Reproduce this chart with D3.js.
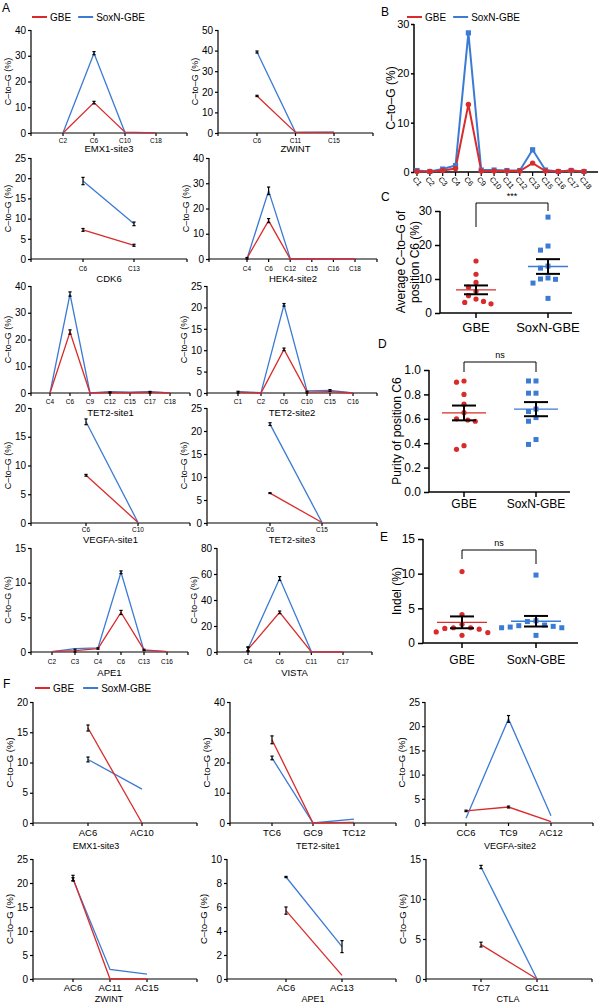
<!DOCTYPE html>
<html><head><meta charset="utf-8">
<script src="https://cdn.jsdelivr.net/npm/d3@7"></script>
<style>body{margin:0;background:#fff}svg{display:block}</style>
</head><body><svg id="c" width="598" height="1005"></svg>
<script>
const RED="#d92b2b", BLUE="#3b7bd4";
const FONT='"Liberation Sans", Arial, Helvetica, sans-serif';

// ---------- Panel A data ----------
const a1Cats=["C2","C6","C10","C18"], a1GBE=[0,11.8,0.3,0.05], a1Sox=[0.1,31,0.2,0.05], a1GBEErr=[0,0.5,0,0], a1SoxErr=[0,0.6,0,0];
const a2Cats=["C6","C11","C15"], a2GBE=[18,0.3,0.3], a2Sox=[39.3,0.3,0.4], a2GBEErr=[0.3,0,0], a2SoxErr=[0.5,0,0];
const a3Cats=["C6","C13"], a3GBE=[7.2,3.4], a3Sox=[19.3,8.7], a3GBEErr=[0.35,0.25], a3SoxErr=[0.9,0.45];
const a4Cats=["C4","C6","C12","C15","C16","C18"], a4GBE=[0.3,15.2,0,0,0,0], a4Sox=[0.1,27,0.2,0.1,0.1,0.1], a4GBEErr=[0.3,0.8,0,0,0,0], a4SoxErr=[0,1.5,0,0,0,0];
const a5Cats=["C4","C6","C9","C12","C15","C17","C18"], a5GBE=[0,22.8,0,0.2,0.1,0.3,0], a5Sox=[0,37,0,0.5,0.3,0.5,0], a5GBEErr=[0,0.8,0,0.2,0,0.3,0], a5SoxErr=[0,0.8,0,0,0,0,0];
const a6Cats=["C1","C2","C6","C10","C15","C16"], a6GBE=[0.2,0,10.2,0.2,0.3,0], a6Sox=[0.3,0.1,20.6,0.5,0.6,0], a6GBEErr=[0.2,0,0.3,0.2,0,0], a6SoxErr=[0,0,0.3,0,0.2,0];
const a7Cats=["C6","C10"], a7GBE=[8.3,0.1], a7Sox=[17.6,0.1], a7GBEErr=[0.15,0], a7SoxErr=[0.5,0];
const a8Cats=["C6","C15"], a8GBE=[6.5,0.1], a8Sox=[21.5,0.1], a8GBEErr=[0.1,0], a8SoxErr=[0.3,0];
const a9Cats=["C2","C3","C4","C6","C13","C16"], a9GBE=[0.05,0.2,0.5,5.7,0.3,0.05], a9Sox=[0.05,0.5,0.6,11.5,0.2,0.05], a9GBEErr=[0,0.2,0.1,0.3,0.1,0], a9SoxErr=[0,0,0,0.2,0,0];
const a10Cats=["C4","C6","C11","C17"], a10GBE=[2,30.5,0.1,0], a10Sox=[2.5,56.5,0.3,0.1], a10GBEErr=[1.5,1,0,0], a10SoxErr=[1.5,1.5,0,0];
const aTitles=["EMX1-site3","ZWINT","CDK6","HEK4-site2","TET2-site1","TET2-site2","VEGFA-site1","TET2-site3","APE1","VISTA"];
const aYMax=[40,50,25,40,40,25,20,25,15,80], aYStep=[10,10,5,10,10,5,5,5,5,20];

// ---------- Panel B data ----------
const bCats=["C1","C2","C3","C4","C6","C9","C10","C11","C12","C13","C15","C16","C17","C18"];
const bGBE=[0.1,0.1,0.3,0.7,13.7,0.2,0.2,0.2,0.2,1.8,0.2,0.1,0.3,0.1];
const bSox=[0.3,0.1,0.6,1.3,28.2,0.4,0.4,0.3,0.3,4.5,0.4,0.1,0.3,0.1];

// ---------- Panels C, D, E data ----------
const groups=["GBE","SoxN-GBE"];
const cGBE=[15.3,11.4,9.0,7.6,6.4,5.1,4.1,3.4,3.1,2.7];
const cSox=[28.2,19.7,18.5,13.8,13.2,10.3,10.0,9.9,8.8,4.3];
const dGBE=[0.91,0.90,0.80,0.72,0.65,0.60,0.59,0.58,0.38,0.35];
const dSox=[0.91,0.91,0.81,0.81,0.68,0.66,0.61,0.58,0.43,0.39];
const eGBE=[10.3,4.1,2.7,2.2,2.2,2.1,2.0,1.6,1.5,1.1];
const eSox=[9.8,3.2,3.1,2.6,2.5,2.4,2.3,2.2,2.2,1.1];
const sigLabels=["***","ns","ns"];

// ---------- Panel F data ----------
const f1Cats=["AC6","AC10"], f1GBE=[15.7,0], f1Sox=[10.5,5.6], f1GBEErr=[0.5,0], f1SoxErr=[0.4,0];
const f2Cats=["TC6","GC9","TC12"], f2GBE=[27.5,0,0.2], f2Sox=[21.5,0,1.3], f2GBEErr=[1.3,0,0], f2SoxErr=[0.6,0,0];
const f3Cats=["CC6","TC9","AC12"], f3GBE=[2.5,3.3,0.3], f3Sox=[1.0,21.5,1.5], f3GBEErr=[0.15,0.2,0], f3SoxErr=[0,0.7,0];
const f4Cats=["AC6","AC11","AC15"], f4GBE=[21,0,0], f4Sox=[20.8,2.0,1.0], f4GBEErr=[0.6,0,0], f4SoxErr=[0.3,0,0];
const f5Cats=["AC6","AC13"], f5GBE=[5.7,0.3], f5Sox=[8.5,2.7], f5GBEErr=[0.3,0], f5SoxErr=[0.05,0.5];
const f6Cats=["TC7","GC11"], f6GBE=[4.3,0], f6Sox=[14,0], f6GBEErr=[0.3,0], f6SoxErr=[0.2,0];
const fTitles=["EMX1-site3","TET2-site1","VEGFA-site2","ZWINT","APE1","CTLA"];
const fYMax=[20,40,25,25,10,15], fYStep=[5,10,5,5,2,5];

const svg=d3.select("#c").attr("font-family",FONT);

function text(x,y,s,size,o={}){
  const t=svg.append("text").attr("x",x).attr("y",y).attr("font-size",size).attr("fill","#000").attr("text-anchor",o.anchor||"start").text(s);
  if(o.rot!=null) t.attr("transform",`rotate(${o.rot},${x},${y})`);
  if(o.weight) t.attr("font-weight",o.weight);
  return t;
}

function legend(x,y,names,size,gap){
  let cx=x;
  [RED,BLUE].forEach((c,i)=>{
    svg.append("line").attr("x1",cx).attr("x2",cx+15).attr("y1",y).attr("y2",y).attr("stroke",c).attr("stroke-width",2);
    const t=text(cx+18,y+size*0.36,names[i],size);
    cx+=18+t.node().getComputedTextLength()+gap;
  });
}

function yAxis(g,p,y){
  const ticks=d3.range(0,p.ymax+p.ystep/2,p.ystep);
  const a=g.append("g").attr("transform",`translate(${p.x0},0)`)
    .call(d3.axisLeft(y).tickValues(ticks).tickSize(p.tk).tickSizeOuter(0).tickPadding(p.tp).tickFormat(p.fmt||d3.format("d")));
  a.attr("font-family",FONT).attr("font-size",p.yfs);
  a.selectAll("text").attr("fill","#000");
  a.selectAll("path,line").attr("stroke","#000").attr("stroke-width",p.sw);
  a.select(".domain").attr("d",`M0,${p.y1}V${p.y0}`);
}

function linePlot(p){
  const g=svg.append("g");
  const y=d3.scaleLinear().domain([0,p.ymax]).range([p.y1,p.y0]);
  const x=d3.scalePoint().domain(p.cats).range(p.xr);
  yAxis(g,p,y);
  g.append("line").attr("x1",p.x0).attr("x2",p.x1).attr("y1",p.y1).attr("y2",p.y1).attr("stroke","#000").attr("stroke-width",p.sw);
  const xt=[p.x0,...p.cats.map(c=>x(c)),p.x1];
  g.selectAll(null).data(xt).join("line").attr("x1",d=>d).attr("x2",d=>d).attr("y1",p.y1).attr("y2",p.y1+p.tk).attr("stroke","#000").attr("stroke-width",p.sw);
  g.selectAll(null).data(p.cats).join("text").attr("x",c=>x(c)).attr("y",p.y1+p.cdy).attr("text-anchor","middle").attr("font-size",p.cfs).text(c=>c);
  const ser=[{v:p.sox,e:p.soxE,c:BLUE},{v:p.gbe,e:p.gbeE,c:RED}];
  const line=d3.line().x((d,i)=>x(p.cats[i])).y(d=>y(d));
  ser.forEach(s=>{
    g.append("path").attr("d",line(s.v)).attr("fill","none").attr("stroke",s.c).attr("stroke-width",p.lw).attr("stroke-linejoin","miter");
  });
  ser.forEach(s=>{
    s.v.forEach((v,i)=>{
      const e=s.e[i]; if(!e) return;
      const cx=x(p.cats[i]);
      const ya=y(v+e), yb=y(Math.max(0,v-e));
      g.append("line").attr("x1",cx).attr("x2",cx).attr("y1",ya).attr("y2",yb).attr("stroke","#000").attr("stroke-width",1.2);
      [ya,yb].forEach(yy=>g.append("line").attr("x1",cx-1.6).attr("x2",cx+1.6).attr("y1",yy).attr("y2",yy).attr("stroke","#000").attr("stroke-width",1.2));
    });
  });
  text(p.tx!=null?p.tx:(p.x0+p.x1)/2,p.y1+p.tdy,p.title,p.tfs,{anchor:"middle"});
  text(p.x0-p.yl,(p.y0+p.y1)/2,"C\u2013to\u2013G (%)",p.ylfs,{anchor:"middle",rot:-90});
}

// ---------- Panel A ----------
text(2,12,"A",12);
legend(32,17,["GBE","SoxN-GBE"],10,7);
const aBox=[
  {x0:31,x1:187,xr:[63,156],y0:30,y1:133,tdy:19,cdy:10},
  {x0:218,x1:373,xr:[257,334],y0:30,y1:133,tdy:19,cdy:10},
  {x0:31,x1:187,xr:[83,134],y0:158,y1:259,tdy:23,cdy:12},
  {x0:209,x1:377,xr:[247,355],y0:158,y1:259,tdy:23,cdy:12},
  {x0:31,x1:190,xr:[50,170],y0:286,y1:393,tdy:23,cdy:11},
  {x0:207,x1:377,xr:[238,353],y0:286,y1:393,tdy:23,cdy:11},
  {x0:31,x1:190,xr:[86,138],y0:408,y1:523,tdy:19.5,cdy:8.5},
  {x0:207,x1:377,xr:[270,322],y0:408,y1:523,tdy:19.5,cdy:8.5},
  {x0:31,x1:188,xr:[52,167],y0:548,y1:652,tdy:24,cdy:12},
  {x0:217,x1:372,xr:[248,343],y0:548,y1:652,tdy:24,cdy:12}
];
const aData=[
  [a1Cats,a1GBE,a1Sox,a1GBEErr,a1SoxErr],[a2Cats,a2GBE,a2Sox,a2GBEErr,a2SoxErr],
  [a3Cats,a3GBE,a3Sox,a3GBEErr,a3SoxErr],[a4Cats,a4GBE,a4Sox,a4GBEErr,a4SoxErr],
  [a5Cats,a5GBE,a5Sox,a5GBEErr,a5SoxErr],[a6Cats,a6GBE,a6Sox,a6GBEErr,a6SoxErr],
  [a7Cats,a7GBE,a7Sox,a7GBEErr,a7SoxErr],[a8Cats,a8GBE,a8Sox,a8GBEErr,a8SoxErr],
  [a9Cats,a9GBE,a9Sox,a9GBEErr,a9SoxErr],[a10Cats,a10GBE,a10Sox,a10GBEErr,a10SoxErr]
];
aBox.forEach((b,i)=>{
  const [cats,gbe,sox,gbeE,soxE]=aData[i];
  linePlot(Object.assign({cats,gbe,sox,gbeE,soxE,title:aTitles[i],ymax:aYMax[i],ystep:aYStep[i],
    tk:3,tp:2,sw:1.2,yfs:10,cfs:6.5,tfs:9.5,yl:20,ylfs:9,lw:1.3},b));
});

// ---------- Panel B ----------
text(381,16,"B",12);
legend(407,17,["GBE","SoxN-GBE"],10,7);
(function(){
  const p={x0:414,x1:598,y0:24,y1:172,ymax:30,ystep:10,tk:3,tp:1.5,sw:1.5,yfs:11};
  const g=svg.append("g");
  const y=d3.scaleLinear().domain([0,p.ymax]).range([p.y1,p.y0]);
  const x=d3.scalePoint().domain(bCats).range([417,584]);
  yAxis(g,p,y);
  g.append("line").attr("x1",p.x0).attr("x2",p.x1).attr("y1",p.y1).attr("y2",p.y1).attr("stroke","#000").attr("stroke-width",p.sw);
  g.selectAll(null).data(bCats).join("line").attr("x1",c=>x(c)).attr("x2",c=>x(c)).attr("y1",p.y1).attr("y2",p.y1+4).attr("stroke","#000").attr("stroke-width",1.2);
  g.selectAll(null).data(bCats).join("text").attr("font-size",7.5)
    .attr("transform",c=>`translate(${x(c)-3},${p.y1+6}) rotate(50)`).attr("dy","0.3em").text(c=>c);
  const line=d3.line().x((d,i)=>x(bCats[i])).y(d=>y(d));
  g.append("path").attr("d",line(bSox)).attr("fill","none").attr("stroke",BLUE).attr("stroke-width",2);
  g.append("path").attr("d",line(bGBE)).attr("fill","none").attr("stroke",RED).attr("stroke-width",2);
  g.selectAll(null).data(bSox).join("rect").attr("x",(d,i)=>x(bCats[i])-2.6).attr("y",d=>y(d)-2.6).attr("width",5.2).attr("height",5.2).attr("fill",BLUE);
  g.selectAll(null).data(bGBE).join("circle").attr("cx",(d,i)=>x(bCats[i])).attr("cy",d=>y(d)).attr("r",2.7).attr("fill",RED);
  text(395,(p.y0+p.y1)/2,"C\u2013to\u2013G (%)",12,{anchor:"middle",rot:-90});
})();

// ---------- Panels C, D, E ----------
function dodge(vals,y,D){
  const pts=vals.map(v=>({v,y:y(v),dx:0}));
  const order=[...pts].sort((a,b)=>b.v-a.v);
  const placed=[];
  const cands=[0]; for(let j=1;j<12;j++){cands.push(-j*D/2,j*D/2);}
  order.forEach(p=>{
    for(const c of cands){ if(placed.every(q=>Math.hypot(q.dx-c,q.y-p.y)>=D)){p.dx=c;break;} }
    placed.push(p);
  });
  return pts;
}
function scatterPlot(p){
  const g=svg.append("g");
  const y=d3.scaleLinear().domain([0,p.ymax]).range([p.y1,p.y0]);
  const x=d3.scalePoint().domain(groups).range(p.xr);
  yAxis(g,p,y);
  g.append("line").attr("x1",p.x0).attr("x2",p.x1).attr("y1",p.y1).attr("y2",p.y1).attr("stroke","#000").attr("stroke-width",p.sw);
  g.selectAll(null).data(groups).join("line").attr("x1",c=>x(c)).attr("x2",c=>x(c)).attr("y1",p.y1).attr("y2",p.y1+5).attr("stroke","#000").attr("stroke-width",p.sw);
  g.selectAll(null).data(groups).join("text").attr("x",c=>x(c)).attr("y",p.y1+p.cdy).attr("text-anchor","middle").attr("font-size",p.cfs).text(c=>c);
  [[p.gbe,RED,"c"],[p.sox,BLUE,"s"]].forEach(([vals,col,shape],k)=>{
    const cx=x(groups[k]);
    const pts=dodge(vals,y,p.D);
    pts.forEach(pt=>{
      if(shape==="c") g.append("circle").attr("cx",cx+pt.dx).attr("cy",pt.y).attr("r",2.6).attr("fill",col);
      else g.append("rect").attr("x",cx+pt.dx-2.5).attr("y",pt.y-2.5).attr("width",5).attr("height",5).attr("fill",col);
    });
    const m=d3.mean(vals), se=d3.deviation(vals)/Math.sqrt(vals.length);
    g.append("line").attr("x1",cx-p.mw).attr("x2",cx+p.mw).attr("y1",y(m)).attr("y2",y(m)).attr("stroke",col).attr("stroke-width",1.3);
    g.append("line").attr("x1",cx).attr("x2",cx).attr("y1",y(m-se)).attr("y2",y(m+se)).attr("stroke","#000").attr("stroke-width",2);
    [m-se,m+se].forEach(v=>g.append("line").attr("x1",cx-p.cw).attr("x2",cx+p.cw).attr("y1",y(v)).attr("y2",y(v)).attr("stroke","#000").attr("stroke-width",2));
  });
  const xa=x(groups[0]), xb=x(groups[1]);
  g.append("path").attr("d",`M${xa},${p.by+p.bl}V${p.by}H${xb}V${p.by+p.br}`).attr("fill","none").attr("stroke","#000").attr("stroke-width",1);
  text((xa+xb)/2,p.by-4,p.sig,9,{anchor:"middle"});
  p.ylab.forEach((s,i)=>text(p.ylx[i],(p.y0+p.y1)/2,s,p.ylfs,{anchor:"middle",rot:-90}));
}
text(381,201,"C",12);
scatterPlot({gbe:cGBE,sox:cSox,x0:440,x1:572,xr:[476,548],y0:211,y1:313,ymax:30,ystep:10,tk:5,tp:3,sw:1.5,yfs:12,cfs:13,cdy:19,
  D:7.5,mw:20,cw:12,by:203,bl:24,br:8,sig:sigLabels[0],ylab:["Average C\u2013to\u2013G of","position C6 (%)"],ylx:[405,419],ylfs:12});
text(378,348,"D",12);
scatterPlot({gbe:dGBE,sox:dSox,x0:429,x1:570,xr:[464,536],y0:370,y1:492,ymax:1.0,ystep:0.2,fmt:d3.format(".1f"),tk:5,tp:3,sw:1.5,yfs:12,cfs:12,cdy:16,
  D:7.5,mw:22,cw:12,by:362,bl:10,br:10,sig:sigLabels[1],ylab:["Purity of position C6"],ylx:[401],ylfs:12});
text(380,541,"E",12);
scatterPlot({gbe:eGBE,sox:eSox,x0:423,x1:578,xr:[462,536],y0:539,y1:643,ymax:15,ystep:5,tk:5,tp:3,sw:1.5,yfs:12,cfs:12,cdy:21,
  D:8.6,mw:25,cw:12,by:550,bl:9,br:14,sig:sigLabels[2],ylab:["Indel (%)"],ylx:[401],ylfs:12});

// ---------- Panel F ----------
text(3,688,"F",12);
legend(35,688,["GBE","SoxM-GBE"],10,9);
const fBox=[
  {x0:33,x1:197,xr:[88,142],y0:702,y1:823,tdy:26,cdy:13,tx:96},
  {x0:230,x1:396,xr:[272,354],y0:702,y1:823,tdy:26,cdy:13,tx:318},
  {x0:425,x1:593,xr:[466,551],y0:702,y1:823,tdy:26,cdy:13,tx:510},
  {x0:33,x1:197,xr:[73,147],y0:859,y1:979,tdy:22.5,cdy:11.5,tx:109},
  {x0:227,x1:396,xr:[286,342],y0:859,y1:979,tdy:22.5,cdy:11.5,tx:313},
  {x0:426,x1:592,xr:[481,537],y0:859,y1:979,tdy:22.5,cdy:11.5,tx:508}
];
const fData=[
  [f1Cats,f1GBE,f1Sox,f1GBEErr,f1SoxErr],[f2Cats,f2GBE,f2Sox,f2GBEErr,f2SoxErr],[f3Cats,f3GBE,f3Sox,f3GBEErr,f3SoxErr],
  [f4Cats,f4GBE,f4Sox,f4GBEErr,f4SoxErr],[f5Cats,f5GBE,f5Sox,f5GBEErr,f5SoxErr],[f6Cats,f6GBE,f6Sox,f6GBEErr,f6SoxErr]
];
fBox.forEach((b,i)=>{
  const [cats,gbe,sox,gbeE,soxE]=fData[i];
  linePlot(Object.assign({cats,gbe,sox,gbeE,soxE,title:fTitles[i],ymax:fYMax[i],ystep:fYStep[i],
    tk:3,tp:2,sw:1.2,yfs:10,cfs:9.5,tfs:9,yl:20,ylfs:9.5,lw:1.3},b));
});
</script></body></html>
